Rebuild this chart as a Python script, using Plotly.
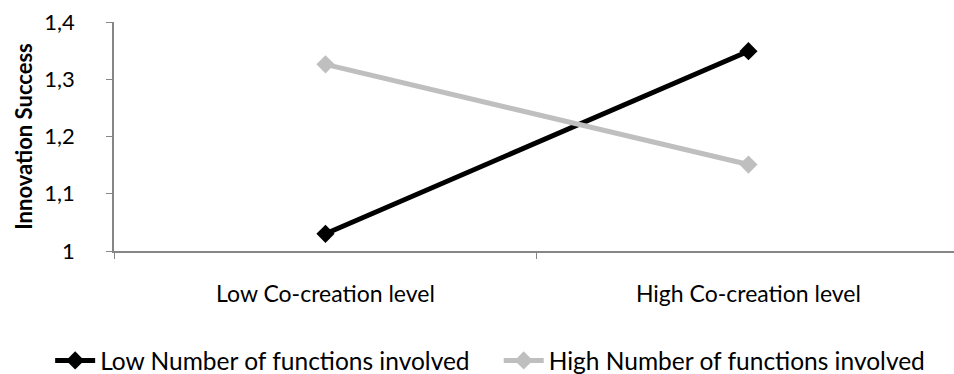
import plotly.graph_objects as go

categories = ["Low Co-creation level", "High Co-creation level"]
low_functions = [1.03, 1.349]
high_functions = [1.326, 1.151]
series_names = ["Low Number of functions involved", "High Number of functions involved"]
y_ticks = [1.0, 1.1, 1.2, 1.3, 1.4]
y_tick_labels = ["1", "1,1", "1,2", "1,3", "1,4"]

FONT = "Lato"
fig = go.Figure()
fig.add_trace(go.Scatter(x=categories, y=low_functions, name=series_names[0], mode="lines+markers",
                         line=dict(color="#000000", width=5),
                         marker=dict(symbol="diamond", size=14, color="#000000"), legend="legend"))
fig.add_trace(go.Scatter(x=categories, y=high_functions, name=series_names[1], mode="lines+markers",
                         line=dict(color="#BFBFBF", width=5),
                         marker=dict(symbol="diamond", size=14, color="#BFBFBF"), legend="legend2"))

legend_style = dict(orientation="h", yanchor="top", y=-0.38, bgcolor="rgba(0,0,0,0)",
                    font=dict(family=FONT, size=24.5), itemwidth=40)
fig.update_layout(
    width=954, height=374,
    margin=dict(l=114, r=0, t=22, b=123, autoexpand=False),
    paper_bgcolor="white", plot_bgcolor="white",
    font=dict(family=FONT, size=23, color="#000000"),
    showlegend=True,
    legend=dict(x=-0.076, xanchor="left", **legend_style),
    legend2=dict(x=0.458, xanchor="left", **legend_style),
)
fig.update_xaxes(type="category", range=[-0.5, 1.486], showgrid=False,
                 showline=True, linecolor="#868686", linewidth=1.5,
                 ticks="outside", tickson="boundaries", ticklen=6, tickcolor="#868686",
                 ticklabelstandoff=22, tickfont=dict(family=FONT, size=23), automargin=False)
fig.update_yaxes(range=[1.0, 1.4], tickvals=y_ticks, ticktext=y_tick_labels, showgrid=False,
                 showline=True, linecolor="#868686", linewidth=1.5, zeroline=False,
                 ticks="outside", ticklen=6, tickcolor="#868686", ticklabelstandoff=27,
                 tickfont=dict(family=FONT, size=22), automargin=False,
                 title=dict(text="<b>Innovation Success</b>", font=dict(family=FONT, size=22), standoff=6))

fig.write_html("out.html", config={"displayModeBar": False})
with open("out.html", encoding="utf-8") as f:
    html = f.read()
html = html.replace("<head>", "<head><style>html,body{margin:0;padding:0;overflow:hidden}</style>", 1)
with open("out.html", "w", encoding="utf-8") as f:
    f.write(html)
